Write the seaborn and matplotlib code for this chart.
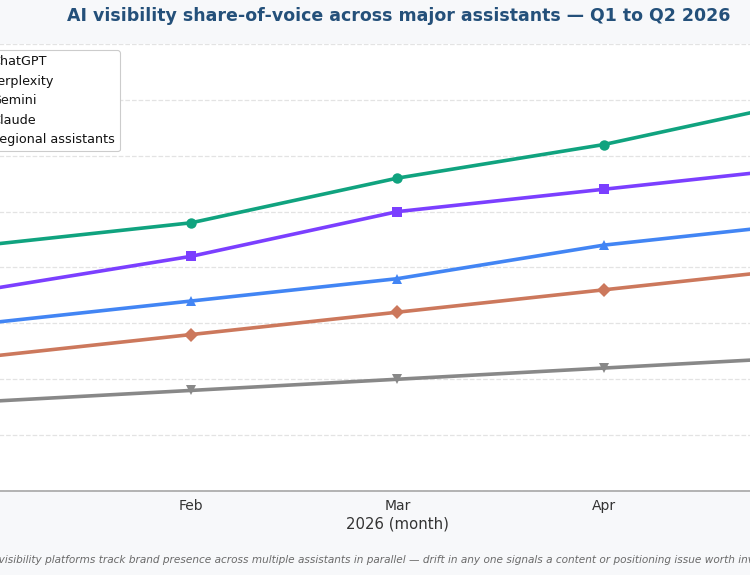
import pandas as pd
import matplotlib.pyplot as plt
import seaborn as sns

months = ["Jan", "Feb", "Mar", "Apr", "May"]
assistants = ["ChatGPT", "Perplexity", "Gemini", "Claude", "Regional assistants"]
chatgpt = [22, 24, 28, 31, 35]
perplexity = [18, 21, 25, 27, 29]
gemini = [15, 17, 19, 22, 24]
claude = [12, 14, 16, 18, 20]
regional = [8, 9, 10, 11, 12]

colores = ["#10a37f", "#7b3fff", "#4285f4", "#cc785c", "#888888"]
marcadores = ["o", "s", "^", "D", "v"]

series = [chatgpt, perplexity, gemini, claude, regional]
df = pd.DataFrame({
    "mes": months * len(assistants),
    "share": [v for s in series for v in s],
    "assistente": [a for a in assistants for _ in months],
})

sns.set_theme(style="white")
plt.rcParams["font.family"] = ["DejaVu Sans"]

fig = plt.figure(figsize=(7.5, 5.75), dpi=100, facecolor="#f7f8fa")
ax = fig.add_axes([-0.0751, 0.1461, 1.2101, 0.7774])
ax.set_facecolor("white")

sns.lineplot(data=df, x="mes", y="share", hue="assistente", style="assistente",
             hue_order=assistants, style_order=assistants,
             palette=colores, markers=marcadores, dashes=False,
             linewidth=2.6, markersize=7.5, markeredgewidth=0, ax=ax)

ax.set_ylim(0, 40)
ax.set_yticks(range(0, 41, 5))
ax.yaxis.grid(True, linestyle="--", color="#e3e3e3", linewidth=0.9)
ax.set_axisbelow(True)
for lado in ["top", "right", "left"]:
    ax.spines[lado].set_visible(False)
ax.spines["bottom"].set_color("#aaaaaa")
ax.tick_params(axis="x", length=3.5, pad=2.5, color="#aaaaaa", labelsize=10, labelcolor="#333333")
ax.set_xlabel("2026 (month)", fontsize=10.7, color="#333333", labelpad=2)
ax.set_ylabel("")

leg = ax.legend(loc="upper left", fontsize=9.2, frameon=True, framealpha=1,
                edgecolor="#cccccc", title=None)
leg.get_frame().set_linewidth(0.8)
for t in leg.get_texts():
    t.set_color("#111111")

fig.text(0.531, 0.972, "AI visibility share-of-voice across major assistants \u2014 Q1 to Q2 2026",
         ha="center", va="center", fontsize=12.5, fontweight="bold", color="#24507a")
fig.text(0.531, 0.026,
         "AI visibility platforms track brand presence across multiple assistants in parallel "
         "\u2014 drift in any one signals a content or positioning issue worth investigating.",
         ha="center", va="center", fontsize=7.6, style="italic", color="#6a6a6a")

fig.savefig("out.png", dpi=100, facecolor=fig.get_facecolor())
